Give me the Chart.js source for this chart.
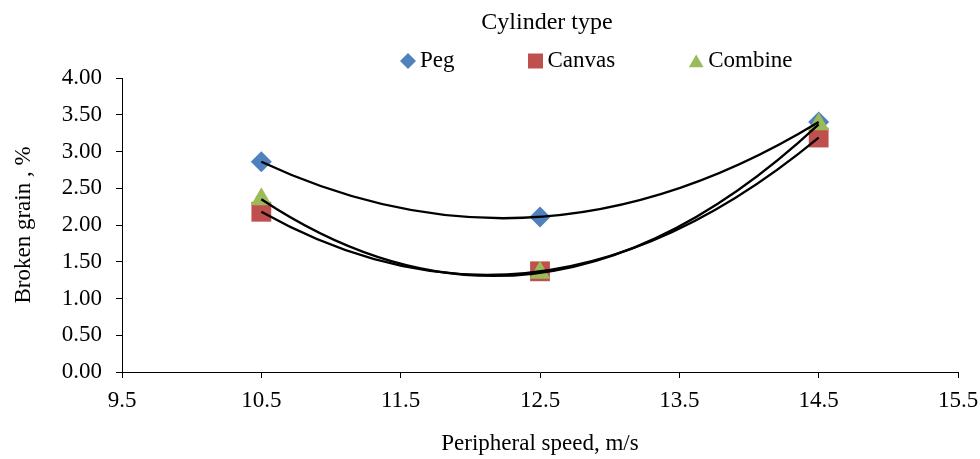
<!DOCTYPE html>
<html>
<head>
<meta charset="utf-8">
<script src="https://cdn.jsdelivr.net/npm/chart.js@4/dist/chart.umd.min.js"></script>
<style>
  html, body { margin: 0; padding: 0; background: #fff; }
  canvas { display: block; }
</style>
</head>
<body>
<canvas id="c" width="980" height="459"></canvas>
<script>
// ---- data ----
const speeds = [10.5, 12.5, 14.5];
const pegValues = [2.86, 2.11, 3.40];
const canvasValues = [2.18, 1.37, 3.19];
const combineValues = [2.35, 1.35, 3.37];
const seriesNames = ['Peg', 'Canvas', 'Combine'];
const xTicks = [9.5, 10.5, 11.5, 12.5, 13.5, 14.5, 15.5];
const yTicks = [0, 0.5, 1, 1.5, 2, 2.5, 3, 3.5, 4];
const legendTitle = 'Cylinder type';
const xTitle = 'Peripheral speed, m/s';
const yTitle = 'Broken grain , %';

const FONT = 'Liberation Serif';
const FS = 23;

function pts(vals) { return speeds.map((x, i) => ({ x: x, y: vals[i] })); }

// quadratic trendline through the three points, drawn as a Bezier in pixel space
const trendPlugin = {
  id: 'trend',
  afterDatasetsDraw(chart) {
    const ctx = chart.ctx;
    const xs = chart.scales.x, ys = chart.scales.y;
    ctx.save();
    ctx.beginPath();
    ctx.rect(chart.chartArea.left, chart.chartArea.top, chart.chartArea.right - chart.chartArea.left, chart.chartArea.bottom - chart.chartArea.top);
    ctx.clip();
    ctx.strokeStyle = '#000';
    ctx.lineWidth = 2.3;
    chart.data.datasets.forEach(ds => {
      const p = ds.data.map(d => ({ x: xs.getPixelForValue(d.x), y: ys.getPixelForValue(d.y) }));
      const cx = 2 * p[1].x - (p[0].x + p[2].x) / 2;
      const cy = 2 * p[1].y - (p[0].y + p[2].y) / 2;
      ctx.beginPath();
      ctx.moveTo(p[0].x, p[0].y);
      ctx.quadraticCurveTo(cx, cy, p[2].x, p[2].y);
      ctx.stroke();
    });
    ctx.restore();
  }
};

// legend with title, laid out like the reference
const legendPlugin = {
  id: 'customLegend',
  afterDraw(chart) {
    const ctx = chart.ctx;
    ctx.save();
    ctx.fillStyle = '#000';
    ctx.textBaseline = 'middle';
    ctx.textAlign = 'center';
    ctx.font = '24px "' + FONT + '"';
    ctx.fillText(legendTitle, 547, 23);
    ctx.font = FS + 'px "' + FONT + '"';
    ctx.textAlign = 'left';
    const legendRadius = { rectRot: 8, rect: 10.6, triangle: 8.5 };
    let xc = 408;
    const yc = 61;
    chart.data.datasets.forEach(ds => {
      ctx.fillStyle = ds.backgroundColor;
      Chart.helpers.drawPoint(ctx, { pointStyle: ds.pointStyle, radius: legendRadius[ds.pointStyle], rotation: 0, borderWidth: 0 }, xc, ds.pointStyle === 'triangle' ? yc + 2 : yc);
      ctx.fillStyle = '#000';
      const tx = xc + 12;
      ctx.fillText(ds.label, tx, yc);
      xc = tx + ctx.measureText(ds.label).width + 81;
    });
    ctx.restore();
  }
};

const axisGrid = { display: true, drawOnChartArea: false, drawTicks: true, tickLength: 6, color: '#000', lineWidth: 1 };

new Chart(document.getElementById('c'), {
  type: 'scatter',
  data: {
    datasets: [
      { label: seriesNames[0], data: pts(pegValues), order: 2, pointStyle: 'rectRot', pointRadius: 10.5, pointHoverRadius: 10.5,
        backgroundColor: '#4F81BD', borderColor: '#4F81BD', borderWidth: 0 },
      { label: seriesNames[1], data: pts(canvasValues), order: 1, pointStyle: 'rect', pointRadius: 14, pointHoverRadius: 14,
        backgroundColor: '#C0504D', borderColor: '#C0504D', borderWidth: 0 },
      { label: seriesNames[2], data: pts(combineValues), order: 0, pointStyle: 'triangle', pointRadius: 12, pointHoverRadius: 12,
        backgroundColor: '#9BBB59', borderColor: '#9BBB59', borderWidth: 0 }
    ]
  },
  options: {
    responsive: false,
    animation: false,
    devicePixelRatio: 1,
    layout: { padding: { top: 78, right: 22, left: 0, bottom: 0 } },
    plugins: { legend: { display: false }, tooltip: { enabled: false }, title: { display: false } },
    scales: {
      x: {
        type: 'linear', min: 9.5, max: 15.5,
        afterBuildTicks: s => { s.ticks = xTicks.map(v => ({ value: v })); },
        afterFit: s => { s.height = 87; s.paddingLeft = 0; s.paddingRight = 0; },
        ticks: { font: { family: FONT, size: FS }, color: '#000', padding: 9, maxRotation: 0, autoSkip: false,
                 callback: v => String(v) },
        grid: axisGrid,
        border: { display: true, color: '#000', width: 1 },
        title: { display: true, text: xTitle, color: '#000', font: { family: FONT, size: FS }, padding: { top: 0, bottom: 1 } }
      },
      y: {
        type: 'linear', min: 0, max: 4,
        afterBuildTicks: s => { s.ticks = yTicks.map(v => ({ value: v })); },
        afterFit: s => { s.width = 122; },
        ticks: { font: { family: FONT, size: FS }, color: '#000', padding: 14, autoSkip: false,
                 callback: v => Number(v).toFixed(2) },
        grid: axisGrid,
        border: { display: true, color: '#000', width: 1 },
        title: { display: true, text: yTitle, color: '#000', font: { family: FONT, size: FS }, padding: { top: 10, bottom: 0 } }
      }
    }
  },
  plugins: [trendPlugin, legendPlugin]
});
</script>
</body>
</html>
